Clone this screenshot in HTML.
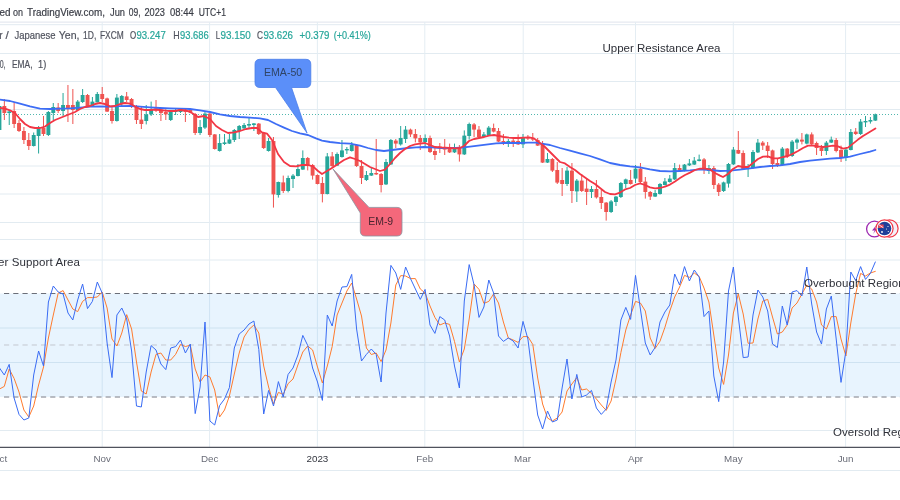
<!DOCTYPE html>
<html><head><meta charset="utf-8"><title>Chart</title>
<style>
html,body{margin:0;padding:0;background:#fff;}
body{width:900px;height:500px;overflow:hidden;position:relative;font-family:"Liberation Sans","DejaVu Sans",sans-serif;}
svg{position:absolute;left:0;top:0;display:block;will-change:transform;opacity:0.999}
text{font-family:"Liberation Sans","DejaVu Sans",sans-serif;}
</style></head><body>
<svg width="900" height="500" viewBox="0 0 900 500">
<rect width="900" height="500" fill="#ffffff"/>
<line x1="0" x2="900" y1="24.7" y2="24.7" stroke="#e2ebf1" stroke-width="1"/>
<line x1="0" x2="900" y1="53.5" y2="53.5" stroke="#e2ebf1" stroke-width="1"/>
<line x1="0" x2="900" y1="81.5" y2="81.5" stroke="#e2ebf1" stroke-width="1"/>
<line x1="0" x2="900" y1="109.5" y2="109.5" stroke="#e2ebf1" stroke-width="1"/>
<line x1="0" x2="900" y1="138" y2="138" stroke="#e2ebf1" stroke-width="1"/>
<line x1="0" x2="900" y1="166" y2="166" stroke="#e2ebf1" stroke-width="1"/>
<line x1="0" x2="900" y1="194" y2="194" stroke="#e2ebf1" stroke-width="1"/>
<line x1="0" x2="900" y1="222.5" y2="222.5" stroke="#e2ebf1" stroke-width="1"/>
<line x1="0" x2="900" y1="239.5" y2="239.5" stroke="#e2ebf1" stroke-width="1"/>
<line x1="0" x2="900" y1="260" y2="260" stroke="#e2ebf1" stroke-width="1"/>
<line x1="0" x2="900" y1="328" y2="328" stroke="#e2ebf1" stroke-width="1"/>
<line x1="0" x2="900" y1="362.5" y2="362.5" stroke="#e2ebf1" stroke-width="1"/>
<line x1="0" x2="900" y1="430.5" y2="430.5" stroke="#e2ebf1" stroke-width="1"/>
<line x1="0" x2="900" y1="470.5" y2="470.5" stroke="#e2ebf1" stroke-width="1"/>
<line x1="0" x2="900" y1="22.2" y2="22.2" stroke="#e6e9f0" stroke-width="1.2"/>
<line x1="102.2" x2="102.2" y1="22" y2="447" stroke="#e4edf3" stroke-width="1"/>
<line x1="209.6" x2="209.6" y1="22" y2="447" stroke="#e4edf3" stroke-width="1"/>
<line x1="317.4" x2="317.4" y1="22" y2="447" stroke="#e4edf3" stroke-width="1"/>
<line x1="424.8" x2="424.8" y1="22" y2="447" stroke="#e4edf3" stroke-width="1"/>
<line x1="523.2" x2="523.2" y1="22" y2="447" stroke="#e4edf3" stroke-width="1"/>
<line x1="635.5" x2="635.5" y1="22" y2="447" stroke="#e4edf3" stroke-width="1"/>
<line x1="733.3" x2="733.3" y1="22" y2="447" stroke="#e4edf3" stroke-width="1"/>
<line x1="845.6" x2="845.6" y1="22" y2="447" stroke="#e4edf3" stroke-width="1"/>
<rect x="0" y="293.5" width="900" height="103.5" fill="rgb(33,150,243)" fill-opacity="0.1"/>
<line x1="4" x2="900" y1="293.5" y2="293.5" stroke="#6b6e78" stroke-width="1" stroke-dasharray="5.2 4.036"/>
<line x1="4" x2="900" y1="345" y2="345" stroke="#c3c7cf" stroke-width="1" stroke-dasharray="5.2 4.036"/>
<line x1="4" x2="900" y1="397" y2="397" stroke="#a4a7ae" stroke-width="1.3" stroke-dasharray="5.2 4.036"/>
<line x1="0" x2="900" y1="114.5" y2="114.5" stroke="#26a69a" stroke-width="1" stroke-dasharray="1 2" opacity="0.8"/>
<line x1="-0.55" x2="-0.55" y1="106.0" y2="130.0" stroke="#26a69a" stroke-width="1"/>
<rect x="-2.50" y="106.0" width="3.9" height="24.00" fill="#26a69a"/>
<line x1="4.35" x2="4.35" y1="99.0" y2="120.0" stroke="#ef5350" stroke-width="1"/>
<rect x="2.40" y="106.0" width="3.9" height="7.00" fill="#ef5350"/>
<line x1="9.24" x2="9.24" y1="110.0" y2="125.0" stroke="#26a69a" stroke-width="1"/>
<rect x="7.29" y="111.5" width="3.9" height="1.50" fill="#26a69a"/>
<line x1="14.13" x2="14.13" y1="102.0" y2="128.0" stroke="#ef5350" stroke-width="1"/>
<rect x="12.18" y="111.0" width="3.9" height="13.00" fill="#ef5350"/>
<line x1="19.02" x2="19.02" y1="120.0" y2="132.0" stroke="#ef5350" stroke-width="1"/>
<rect x="17.07" y="123.0" width="3.9" height="8.00" fill="#ef5350"/>
<line x1="23.92" x2="23.92" y1="127.0" y2="144.0" stroke="#ef5350" stroke-width="1"/>
<rect x="21.97" y="131.0" width="3.9" height="9.00" fill="#ef5350"/>
<line x1="28.81" x2="28.81" y1="133.0" y2="150.0" stroke="#ef5350" stroke-width="1"/>
<rect x="26.86" y="140.0" width="3.9" height="6.00" fill="#ef5350"/>
<line x1="33.70" x2="33.70" y1="132.5" y2="146.5" stroke="#26a69a" stroke-width="1"/>
<rect x="31.75" y="135.0" width="3.9" height="11.00" fill="#26a69a"/>
<line x1="38.60" x2="38.60" y1="126.0" y2="153.5" stroke="#26a69a" stroke-width="1"/>
<rect x="36.65" y="127.0" width="3.9" height="9.00" fill="#26a69a"/>
<line x1="43.49" x2="43.49" y1="116.0" y2="136.0" stroke="#ef5350" stroke-width="1"/>
<rect x="41.54" y="128.0" width="3.9" height="6.00" fill="#ef5350"/>
<line x1="48.38" x2="48.38" y1="111.0" y2="136.0" stroke="#26a69a" stroke-width="1"/>
<rect x="46.43" y="112.0" width="3.9" height="23.00" fill="#26a69a"/>
<line x1="53.28" x2="53.28" y1="103.0" y2="120.0" stroke="#26a69a" stroke-width="1"/>
<rect x="51.33" y="107.0" width="3.9" height="6.00" fill="#26a69a"/>
<line x1="58.17" x2="58.17" y1="103.0" y2="113.0" stroke="#ef5350" stroke-width="1"/>
<rect x="56.22" y="107.5" width="3.9" height="3.50" fill="#ef5350"/>
<line x1="63.06" x2="63.06" y1="93.0" y2="116.0" stroke="#26a69a" stroke-width="1"/>
<rect x="61.11" y="105.0" width="3.9" height="6.00" fill="#26a69a"/>
<line x1="67.95" x2="67.95" y1="85.0" y2="122.0" stroke="#ef5350" stroke-width="1"/>
<rect x="66.00" y="105.0" width="3.9" height="3.00" fill="#ef5350"/>
<line x1="72.85" x2="72.85" y1="89.0" y2="124.0" stroke="#ef5350" stroke-width="1"/>
<rect x="70.90" y="105.0" width="3.9" height="5.00" fill="#ef5350"/>
<line x1="77.74" x2="77.74" y1="100.0" y2="110.0" stroke="#26a69a" stroke-width="1"/>
<rect x="75.79" y="101.6" width="3.9" height="8.40" fill="#26a69a"/>
<line x1="82.63" x2="82.63" y1="89.0" y2="103.0" stroke="#26a69a" stroke-width="1"/>
<rect x="80.68" y="95.0" width="3.9" height="7.00" fill="#26a69a"/>
<line x1="87.53" x2="87.53" y1="94.0" y2="106.4" stroke="#ef5350" stroke-width="1"/>
<rect x="85.58" y="95.0" width="3.9" height="11.00" fill="#ef5350"/>
<line x1="92.42" x2="92.42" y1="97.0" y2="106.0" stroke="#26a69a" stroke-width="1"/>
<rect x="90.47" y="101.6" width="3.9" height="4.40" fill="#26a69a"/>
<line x1="97.31" x2="97.31" y1="92.0" y2="102.4" stroke="#26a69a" stroke-width="1"/>
<rect x="95.36" y="94.0" width="3.9" height="8.40" fill="#26a69a"/>
<line x1="102.21" x2="102.21" y1="87.0" y2="102.0" stroke="#ef5350" stroke-width="1"/>
<rect x="100.26" y="94.0" width="3.9" height="5.00" fill="#ef5350"/>
<line x1="107.10" x2="107.10" y1="97.6" y2="112.0" stroke="#ef5350" stroke-width="1"/>
<rect x="105.15" y="98.4" width="3.9" height="13.20" fill="#ef5350"/>
<line x1="111.99" x2="111.99" y1="106.0" y2="123.6" stroke="#ef5350" stroke-width="1"/>
<rect x="110.04" y="111.0" width="3.9" height="10.00" fill="#ef5350"/>
<line x1="116.88" x2="116.88" y1="94.0" y2="121.6" stroke="#26a69a" stroke-width="1"/>
<rect x="114.93" y="97.6" width="3.9" height="23.40" fill="#26a69a"/>
<line x1="121.78" x2="121.78" y1="95.0" y2="106.0" stroke="#26a69a" stroke-width="1"/>
<rect x="119.83" y="96.0" width="3.9" height="7.00" fill="#26a69a"/>
<line x1="126.67" x2="126.67" y1="92.0" y2="102.0" stroke="#ef5350" stroke-width="1"/>
<rect x="124.72" y="96.4" width="3.9" height="3.60" fill="#ef5350"/>
<line x1="131.56" x2="131.56" y1="98.0" y2="108.0" stroke="#ef5350" stroke-width="1"/>
<rect x="129.61" y="99.0" width="3.9" height="8.00" fill="#ef5350"/>
<line x1="136.46" x2="136.46" y1="105.0" y2="124.0" stroke="#ef5350" stroke-width="1"/>
<rect x="134.51" y="106.0" width="3.9" height="14.00" fill="#ef5350"/>
<line x1="141.35" x2="141.35" y1="106.0" y2="129.0" stroke="#ef5350" stroke-width="1"/>
<rect x="139.40" y="119.6" width="3.9" height="4.40" fill="#ef5350"/>
<line x1="146.24" x2="146.24" y1="105.0" y2="124.4" stroke="#26a69a" stroke-width="1"/>
<rect x="144.29" y="114.4" width="3.9" height="6.60" fill="#26a69a"/>
<line x1="151.14" x2="151.14" y1="101.6" y2="116.0" stroke="#26a69a" stroke-width="1"/>
<rect x="149.19" y="109.0" width="3.9" height="5.40" fill="#26a69a"/>
<line x1="156.03" x2="156.03" y1="100.0" y2="112.0" stroke="#ef5350" stroke-width="1"/>
<rect x="154.08" y="108.4" width="3.9" height="2.00" fill="#ef5350"/>
<line x1="160.92" x2="160.92" y1="108.0" y2="121.0" stroke="#ef5350" stroke-width="1"/>
<rect x="158.97" y="109.6" width="3.9" height="3.40" fill="#ef5350"/>
<line x1="165.81" x2="165.81" y1="108.0" y2="120.0" stroke="#ef5350" stroke-width="1"/>
<rect x="163.87" y="112.0" width="3.9" height="2.40" fill="#ef5350"/>
<line x1="170.71" x2="170.71" y1="110.0" y2="121.0" stroke="#26a69a" stroke-width="1"/>
<rect x="168.76" y="111.6" width="3.9" height="8.40" fill="#26a69a"/>
<line x1="175.60" x2="175.60" y1="109.0" y2="115.0" stroke="#26a69a" stroke-width="1"/>
<rect x="173.65" y="110.0" width="3.9" height="2.00" fill="#26a69a"/>
<line x1="180.49" x2="180.49" y1="108.0" y2="113.0" stroke="#26a69a" stroke-width="1"/>
<rect x="178.54" y="109.0" width="3.9" height="3.00" fill="#26a69a"/>
<line x1="185.39" x2="185.39" y1="109.0" y2="122.0" stroke="#ef5350" stroke-width="1"/>
<rect x="183.44" y="110.0" width="3.9" height="2.00" fill="#ef5350"/>
<line x1="190.28" x2="190.28" y1="109.0" y2="113.0" stroke="#ef5350" stroke-width="1"/>
<rect x="188.33" y="110.0" width="3.9" height="2.00" fill="#ef5350"/>
<line x1="195.17" x2="195.17" y1="113.0" y2="135.0" stroke="#ef5350" stroke-width="1"/>
<rect x="193.22" y="114.0" width="3.9" height="19.00" fill="#ef5350"/>
<line x1="200.07" x2="200.07" y1="120.0" y2="135.0" stroke="#26a69a" stroke-width="1"/>
<rect x="198.12" y="127.0" width="3.9" height="6.00" fill="#26a69a"/>
<line x1="204.96" x2="204.96" y1="112.0" y2="129.0" stroke="#26a69a" stroke-width="1"/>
<rect x="203.01" y="113.6" width="3.9" height="14.00" fill="#26a69a"/>
<line x1="209.85" x2="209.85" y1="113.0" y2="137.0" stroke="#ef5350" stroke-width="1"/>
<rect x="207.90" y="113.6" width="3.9" height="21.40" fill="#ef5350"/>
<line x1="214.75" x2="214.75" y1="134.0" y2="149.6" stroke="#ef5350" stroke-width="1"/>
<rect x="212.80" y="134.4" width="3.9" height="14.60" fill="#ef5350"/>
<line x1="219.64" x2="219.64" y1="134.0" y2="151.6" stroke="#26a69a" stroke-width="1"/>
<rect x="217.69" y="143.0" width="3.9" height="8.00" fill="#26a69a"/>
<line x1="224.53" x2="224.53" y1="134.0" y2="145.0" stroke="#26a69a" stroke-width="1"/>
<rect x="222.58" y="142.4" width="3.9" height="1.60" fill="#26a69a"/>
<line x1="229.42" x2="229.42" y1="134.0" y2="144.0" stroke="#26a69a" stroke-width="1"/>
<rect x="227.47" y="139.4" width="3.9" height="4.20" fill="#26a69a"/>
<line x1="234.32" x2="234.32" y1="129.0" y2="142.0" stroke="#26a69a" stroke-width="1"/>
<rect x="232.37" y="130.0" width="3.9" height="10.00" fill="#26a69a"/>
<line x1="239.21" x2="239.21" y1="125.0" y2="139.0" stroke="#26a69a" stroke-width="1"/>
<rect x="237.26" y="126.0" width="3.9" height="5.00" fill="#26a69a"/>
<line x1="244.10" x2="244.10" y1="123.0" y2="129.0" stroke="#26a69a" stroke-width="1"/>
<rect x="242.15" y="125.0" width="3.9" height="3.40" fill="#26a69a"/>
<line x1="249.00" x2="249.00" y1="118.0" y2="128.0" stroke="#26a69a" stroke-width="1"/>
<rect x="247.05" y="124.0" width="3.9" height="1.60" fill="#26a69a"/>
<line x1="253.89" x2="253.89" y1="123.0" y2="131.0" stroke="#26a69a" stroke-width="1"/>
<rect x="251.94" y="123.4" width="3.9" height="1.60" fill="#26a69a"/>
<line x1="258.78" x2="258.78" y1="123.0" y2="135.0" stroke="#ef5350" stroke-width="1"/>
<rect x="256.83" y="123.6" width="3.9" height="10.40" fill="#ef5350"/>
<line x1="263.68" x2="263.68" y1="132.0" y2="149.0" stroke="#ef5350" stroke-width="1"/>
<rect x="261.73" y="133.0" width="3.9" height="15.00" fill="#ef5350"/>
<line x1="268.57" x2="268.57" y1="138.0" y2="151.6" stroke="#26a69a" stroke-width="1"/>
<rect x="266.62" y="141.0" width="3.9" height="10.00" fill="#26a69a"/>
<line x1="273.46" x2="273.46" y1="137.0" y2="207.6" stroke="#ef5350" stroke-width="1"/>
<rect x="271.51" y="141.0" width="3.9" height="53.40" fill="#ef5350"/>
<line x1="278.35" x2="278.35" y1="181.6" y2="197.6" stroke="#26a69a" stroke-width="1"/>
<rect x="276.40" y="182.0" width="3.9" height="13.00" fill="#26a69a"/>
<line x1="283.25" x2="283.25" y1="175.6" y2="193.0" stroke="#ef5350" stroke-width="1"/>
<rect x="281.30" y="182.4" width="3.9" height="8.60" fill="#ef5350"/>
<line x1="288.14" x2="288.14" y1="175.6" y2="192.4" stroke="#26a69a" stroke-width="1"/>
<rect x="286.19" y="178.0" width="3.9" height="13.00" fill="#26a69a"/>
<line x1="293.03" x2="293.03" y1="174.0" y2="188.0" stroke="#26a69a" stroke-width="1"/>
<rect x="291.08" y="175.6" width="3.9" height="3.40" fill="#26a69a"/>
<line x1="297.93" x2="297.93" y1="164.0" y2="176.4" stroke="#26a69a" stroke-width="1"/>
<rect x="295.98" y="169.0" width="3.9" height="7.00" fill="#26a69a"/>
<line x1="302.82" x2="302.82" y1="150.4" y2="170.0" stroke="#26a69a" stroke-width="1"/>
<rect x="300.87" y="158.0" width="3.9" height="11.60" fill="#26a69a"/>
<line x1="307.71" x2="307.71" y1="157.0" y2="170.4" stroke="#ef5350" stroke-width="1"/>
<rect x="305.76" y="158.0" width="3.9" height="8.00" fill="#ef5350"/>
<line x1="312.60" x2="312.60" y1="164.0" y2="179.6" stroke="#ef5350" stroke-width="1"/>
<rect x="310.65" y="165.0" width="3.9" height="10.60" fill="#ef5350"/>
<line x1="317.50" x2="317.50" y1="174.4" y2="184.4" stroke="#ef5350" stroke-width="1"/>
<rect x="315.55" y="175.0" width="3.9" height="9.00" fill="#ef5350"/>
<line x1="322.39" x2="322.39" y1="177.0" y2="202.4" stroke="#ef5350" stroke-width="1"/>
<rect x="320.44" y="183.0" width="3.9" height="11.00" fill="#ef5350"/>
<line x1="327.28" x2="327.28" y1="153.0" y2="194.4" stroke="#26a69a" stroke-width="1"/>
<rect x="325.33" y="156.4" width="3.9" height="37.60" fill="#26a69a"/>
<line x1="332.18" x2="332.18" y1="152.0" y2="168.0" stroke="#ef5350" stroke-width="1"/>
<rect x="330.23" y="156.4" width="3.9" height="9.60" fill="#ef5350"/>
<line x1="337.07" x2="337.07" y1="152.4" y2="166.0" stroke="#26a69a" stroke-width="1"/>
<rect x="335.12" y="154.0" width="3.9" height="11.60" fill="#26a69a"/>
<line x1="341.96" x2="341.96" y1="140.0" y2="157.6" stroke="#26a69a" stroke-width="1"/>
<rect x="340.01" y="150.4" width="3.9" height="6.60" fill="#26a69a"/>
<line x1="346.86" x2="346.86" y1="147.0" y2="154.0" stroke="#26a69a" stroke-width="1"/>
<rect x="344.91" y="149.0" width="3.9" height="1.40" fill="#26a69a"/>
<line x1="351.75" x2="351.75" y1="142.0" y2="151.6" stroke="#26a69a" stroke-width="1"/>
<rect x="349.80" y="145.0" width="3.9" height="6.00" fill="#26a69a"/>
<line x1="356.64" x2="356.64" y1="144.0" y2="167.0" stroke="#ef5350" stroke-width="1"/>
<rect x="354.69" y="145.0" width="3.9" height="21.00" fill="#ef5350"/>
<line x1="361.53" x2="361.53" y1="160.0" y2="184.0" stroke="#ef5350" stroke-width="1"/>
<rect x="359.58" y="166.0" width="3.9" height="12.00" fill="#ef5350"/>
<line x1="366.43" x2="366.43" y1="171.0" y2="181.0" stroke="#26a69a" stroke-width="1"/>
<rect x="364.48" y="175.0" width="3.9" height="5.00" fill="#26a69a"/>
<line x1="371.32" x2="371.32" y1="168.0" y2="176.0" stroke="#26a69a" stroke-width="1"/>
<rect x="369.37" y="173.0" width="3.9" height="2.60" fill="#26a69a"/>
<line x1="376.21" x2="376.21" y1="139.0" y2="175.0" stroke="#ef5350" stroke-width="1"/>
<rect x="374.26" y="173.0" width="3.9" height="1.40" fill="#ef5350"/>
<line x1="381.11" x2="381.11" y1="173.0" y2="192.4" stroke="#ef5350" stroke-width="1"/>
<rect x="379.16" y="174.0" width="3.9" height="11.00" fill="#ef5350"/>
<line x1="386.00" x2="386.00" y1="159.0" y2="185.0" stroke="#26a69a" stroke-width="1"/>
<rect x="384.05" y="162.0" width="3.9" height="22.40" fill="#26a69a"/>
<line x1="390.89" x2="390.89" y1="139.0" y2="165.0" stroke="#26a69a" stroke-width="1"/>
<rect x="388.94" y="140.0" width="3.9" height="24.40" fill="#26a69a"/>
<line x1="395.79" x2="395.79" y1="139.0" y2="148.0" stroke="#ef5350" stroke-width="1"/>
<rect x="393.84" y="140.6" width="3.9" height="3.00" fill="#ef5350"/>
<line x1="400.68" x2="400.68" y1="126.0" y2="145.6" stroke="#26a69a" stroke-width="1"/>
<rect x="398.73" y="138.0" width="3.9" height="6.40" fill="#26a69a"/>
<line x1="405.57" x2="405.57" y1="126.0" y2="143.0" stroke="#26a69a" stroke-width="1"/>
<rect x="403.62" y="129.6" width="3.9" height="9.40" fill="#26a69a"/>
<line x1="410.46" x2="410.46" y1="128.6" y2="137.0" stroke="#ef5350" stroke-width="1"/>
<rect x="408.51" y="129.6" width="3.9" height="4.80" fill="#ef5350"/>
<line x1="415.36" x2="415.36" y1="129.0" y2="142.4" stroke="#ef5350" stroke-width="1"/>
<rect x="413.41" y="134.0" width="3.9" height="4.40" fill="#ef5350"/>
<line x1="420.25" x2="420.25" y1="135.0" y2="150.0" stroke="#ef5350" stroke-width="1"/>
<rect x="418.30" y="138.0" width="3.9" height="4.40" fill="#ef5350"/>
<line x1="425.14" x2="425.14" y1="134.4" y2="148.0" stroke="#26a69a" stroke-width="1"/>
<rect x="423.19" y="138.0" width="3.9" height="4.00" fill="#26a69a"/>
<line x1="430.04" x2="430.04" y1="135.6" y2="153.0" stroke="#ef5350" stroke-width="1"/>
<rect x="428.09" y="138.0" width="3.9" height="14.00" fill="#ef5350"/>
<line x1="434.93" x2="434.93" y1="147.0" y2="160.0" stroke="#ef5350" stroke-width="1"/>
<rect x="432.98" y="151.0" width="3.9" height="4.00" fill="#ef5350"/>
<line x1="439.82" x2="439.82" y1="143.0" y2="153.0" stroke="#ef5350" stroke-width="1"/>
<rect x="437.87" y="146.4" width="3.9" height="1.60" fill="#ef5350"/>
<line x1="444.72" x2="444.72" y1="139.0" y2="155.0" stroke="#ef5350" stroke-width="1"/>
<rect x="442.77" y="147.0" width="3.9" height="2.60" fill="#ef5350"/>
<line x1="449.61" x2="449.61" y1="143.6" y2="153.0" stroke="#ef5350" stroke-width="1"/>
<rect x="447.66" y="148.0" width="3.9" height="4.40" fill="#ef5350"/>
<line x1="454.50" x2="454.50" y1="143.6" y2="153.0" stroke="#26a69a" stroke-width="1"/>
<rect x="452.55" y="149.0" width="3.9" height="3.40" fill="#26a69a"/>
<line x1="459.39" x2="459.39" y1="145.0" y2="161.6" stroke="#ef5350" stroke-width="1"/>
<rect x="457.44" y="148.0" width="3.9" height="6.40" fill="#ef5350"/>
<line x1="464.29" x2="464.29" y1="130.4" y2="155.0" stroke="#26a69a" stroke-width="1"/>
<rect x="462.34" y="135.6" width="3.9" height="18.80" fill="#26a69a"/>
<line x1="469.18" x2="469.18" y1="122.6" y2="139.6" stroke="#26a69a" stroke-width="1"/>
<rect x="467.23" y="124.0" width="3.9" height="12.00" fill="#26a69a"/>
<line x1="474.07" x2="474.07" y1="123.0" y2="137.0" stroke="#ef5350" stroke-width="1"/>
<rect x="472.12" y="124.4" width="3.9" height="5.20" fill="#ef5350"/>
<line x1="478.97" x2="478.97" y1="126.0" y2="138.4" stroke="#ef5350" stroke-width="1"/>
<rect x="477.02" y="129.6" width="3.9" height="7.40" fill="#ef5350"/>
<line x1="483.86" x2="483.86" y1="132.0" y2="137.6" stroke="#26a69a" stroke-width="1"/>
<rect x="481.91" y="134.4" width="3.9" height="2.60" fill="#26a69a"/>
<line x1="488.75" x2="488.75" y1="126.0" y2="136.0" stroke="#26a69a" stroke-width="1"/>
<rect x="486.80" y="127.6" width="3.9" height="8.00" fill="#26a69a"/>
<line x1="493.65" x2="493.65" y1="123.6" y2="132.4" stroke="#ef5350" stroke-width="1"/>
<rect x="491.70" y="128.0" width="3.9" height="3.60" fill="#ef5350"/>
<line x1="498.54" x2="498.54" y1="128.0" y2="142.0" stroke="#ef5350" stroke-width="1"/>
<rect x="496.59" y="131.0" width="3.9" height="10.60" fill="#ef5350"/>
<line x1="503.43" x2="503.43" y1="134.0" y2="145.0" stroke="#ef5350" stroke-width="1"/>
<rect x="501.48" y="141.0" width="3.9" height="1.40" fill="#ef5350"/>
<line x1="508.32" x2="508.32" y1="139.0" y2="147.0" stroke="#26a69a" stroke-width="1"/>
<rect x="506.38" y="141.0" width="3.9" height="2.00" fill="#26a69a"/>
<line x1="513.22" x2="513.22" y1="137.0" y2="147.0" stroke="#ef5350" stroke-width="1"/>
<rect x="511.27" y="140.6" width="3.9" height="1.80" fill="#ef5350"/>
<line x1="518.11" x2="518.11" y1="134.4" y2="145.0" stroke="#ef5350" stroke-width="1"/>
<rect x="516.16" y="141.0" width="3.9" height="3.40" fill="#ef5350"/>
<line x1="523.00" x2="523.00" y1="134.0" y2="148.0" stroke="#26a69a" stroke-width="1"/>
<rect x="521.05" y="137.0" width="3.9" height="7.40" fill="#26a69a"/>
<line x1="527.90" x2="527.90" y1="135.0" y2="140.0" stroke="#ef5350" stroke-width="1"/>
<rect x="525.95" y="137.0" width="3.9" height="1.40" fill="#ef5350"/>
<line x1="532.79" x2="532.79" y1="133.0" y2="141.0" stroke="#ef5350" stroke-width="1"/>
<rect x="530.84" y="138.4" width="3.9" height="1.20" fill="#ef5350"/>
<line x1="537.68" x2="537.68" y1="138.0" y2="146.0" stroke="#ef5350" stroke-width="1"/>
<rect x="535.73" y="140.0" width="3.9" height="5.60" fill="#ef5350"/>
<line x1="542.58" x2="542.58" y1="141.0" y2="163.0" stroke="#ef5350" stroke-width="1"/>
<rect x="540.63" y="144.0" width="3.9" height="18.60" fill="#ef5350"/>
<line x1="547.47" x2="547.47" y1="153.0" y2="163.0" stroke="#26a69a" stroke-width="1"/>
<rect x="545.52" y="159.0" width="3.9" height="3.60" fill="#26a69a"/>
<line x1="552.36" x2="552.36" y1="158.0" y2="172.0" stroke="#ef5350" stroke-width="1"/>
<rect x="550.41" y="159.0" width="3.9" height="11.60" fill="#ef5350"/>
<line x1="557.25" x2="557.25" y1="162.0" y2="184.0" stroke="#ef5350" stroke-width="1"/>
<rect x="555.30" y="170.0" width="3.9" height="12.60" fill="#ef5350"/>
<line x1="562.15" x2="562.15" y1="168.0" y2="196.0" stroke="#ef5350" stroke-width="1"/>
<rect x="560.20" y="180.0" width="3.9" height="4.00" fill="#ef5350"/>
<line x1="567.04" x2="567.04" y1="167.0" y2="186.0" stroke="#26a69a" stroke-width="1"/>
<rect x="565.09" y="170.6" width="3.9" height="13.40" fill="#26a69a"/>
<line x1="571.93" x2="571.93" y1="163.0" y2="203.0" stroke="#ef5350" stroke-width="1"/>
<rect x="569.98" y="170.6" width="3.9" height="20.40" fill="#ef5350"/>
<line x1="576.83" x2="576.83" y1="179.0" y2="202.0" stroke="#26a69a" stroke-width="1"/>
<rect x="574.88" y="180.6" width="3.9" height="10.80" fill="#26a69a"/>
<line x1="581.72" x2="581.72" y1="174.0" y2="192.0" stroke="#ef5350" stroke-width="1"/>
<rect x="579.77" y="180.6" width="3.9" height="10.40" fill="#ef5350"/>
<line x1="586.61" x2="586.61" y1="179.0" y2="205.0" stroke="#ef5350" stroke-width="1"/>
<rect x="584.66" y="188.6" width="3.9" height="3.40" fill="#ef5350"/>
<line x1="591.51" x2="591.51" y1="186.0" y2="198.0" stroke="#26a69a" stroke-width="1"/>
<rect x="589.56" y="189.0" width="3.9" height="3.00" fill="#26a69a"/>
<line x1="596.40" x2="596.40" y1="180.0" y2="198.6" stroke="#ef5350" stroke-width="1"/>
<rect x="594.45" y="189.0" width="3.9" height="8.40" fill="#ef5350"/>
<line x1="601.29" x2="601.29" y1="190.0" y2="209.0" stroke="#ef5350" stroke-width="1"/>
<rect x="599.34" y="197.0" width="3.9" height="6.00" fill="#ef5350"/>
<line x1="606.18" x2="606.18" y1="202.0" y2="220.6" stroke="#ef5350" stroke-width="1"/>
<rect x="604.23" y="202.6" width="3.9" height="9.40" fill="#ef5350"/>
<line x1="611.08" x2="611.08" y1="200.0" y2="213.0" stroke="#26a69a" stroke-width="1"/>
<rect x="609.13" y="201.4" width="3.9" height="10.60" fill="#26a69a"/>
<line x1="615.97" x2="615.97" y1="196.0" y2="206.0" stroke="#26a69a" stroke-width="1"/>
<rect x="614.02" y="196.6" width="3.9" height="5.40" fill="#26a69a"/>
<line x1="620.86" x2="620.86" y1="182.0" y2="198.0" stroke="#26a69a" stroke-width="1"/>
<rect x="618.91" y="183.0" width="3.9" height="14.00" fill="#26a69a"/>
<line x1="625.76" x2="625.76" y1="178.6" y2="188.0" stroke="#26a69a" stroke-width="1"/>
<rect x="623.81" y="179.4" width="3.9" height="4.60" fill="#26a69a"/>
<line x1="630.65" x2="630.65" y1="170.0" y2="184.6" stroke="#ef5350" stroke-width="1"/>
<rect x="628.70" y="180.0" width="3.9" height="4.00" fill="#ef5350"/>
<line x1="635.54" x2="635.54" y1="165.0" y2="183.0" stroke="#26a69a" stroke-width="1"/>
<rect x="633.59" y="168.6" width="3.9" height="10.00" fill="#26a69a"/>
<line x1="640.44" x2="640.44" y1="163.0" y2="183.0" stroke="#ef5350" stroke-width="1"/>
<rect x="638.49" y="168.6" width="3.9" height="13.40" fill="#ef5350"/>
<line x1="645.33" x2="645.33" y1="177.0" y2="198.6" stroke="#ef5350" stroke-width="1"/>
<rect x="643.38" y="181.6" width="3.9" height="10.40" fill="#ef5350"/>
<line x1="650.22" x2="650.22" y1="191.0" y2="200.0" stroke="#ef5350" stroke-width="1"/>
<rect x="648.27" y="192.0" width="3.9" height="4.60" fill="#ef5350"/>
<line x1="655.11" x2="655.11" y1="190.0" y2="197.0" stroke="#26a69a" stroke-width="1"/>
<rect x="653.16" y="193.0" width="3.9" height="3.60" fill="#26a69a"/>
<line x1="660.01" x2="660.01" y1="183.0" y2="194.6" stroke="#26a69a" stroke-width="1"/>
<rect x="658.06" y="184.0" width="3.9" height="10.00" fill="#26a69a"/>
<line x1="664.90" x2="664.90" y1="178.0" y2="185.4" stroke="#26a69a" stroke-width="1"/>
<rect x="662.95" y="181.4" width="3.9" height="3.60" fill="#26a69a"/>
<line x1="669.79" x2="669.79" y1="175.0" y2="182.6" stroke="#26a69a" stroke-width="1"/>
<rect x="667.84" y="178.6" width="3.9" height="3.40" fill="#26a69a"/>
<line x1="674.69" x2="674.69" y1="163.0" y2="180.0" stroke="#26a69a" stroke-width="1"/>
<rect x="672.74" y="168.0" width="3.9" height="11.40" fill="#26a69a"/>
<line x1="679.58" x2="679.58" y1="164.6" y2="172.0" stroke="#ef5350" stroke-width="1"/>
<rect x="677.63" y="168.0" width="3.9" height="2.60" fill="#ef5350"/>
<line x1="684.47" x2="684.47" y1="164.0" y2="171.4" stroke="#26a69a" stroke-width="1"/>
<rect x="682.52" y="164.6" width="3.9" height="6.40" fill="#26a69a"/>
<line x1="689.37" x2="689.37" y1="159.0" y2="166.0" stroke="#26a69a" stroke-width="1"/>
<rect x="687.42" y="163.4" width="3.9" height="2.00" fill="#26a69a"/>
<line x1="694.26" x2="694.26" y1="157.0" y2="165.0" stroke="#26a69a" stroke-width="1"/>
<rect x="692.31" y="160.6" width="3.9" height="4.00" fill="#26a69a"/>
<line x1="699.15" x2="699.15" y1="154.6" y2="161.4" stroke="#26a69a" stroke-width="1"/>
<rect x="697.20" y="159.4" width="3.9" height="1.60" fill="#26a69a"/>
<line x1="704.04" x2="704.04" y1="158.0" y2="174.0" stroke="#ef5350" stroke-width="1"/>
<rect x="702.09" y="159.4" width="3.9" height="10.00" fill="#ef5350"/>
<line x1="708.94" x2="708.94" y1="165.0" y2="174.0" stroke="#26a69a" stroke-width="1"/>
<rect x="706.99" y="168.0" width="3.9" height="3.00" fill="#26a69a"/>
<line x1="713.83" x2="713.83" y1="166.0" y2="189.0" stroke="#ef5350" stroke-width="1"/>
<rect x="711.88" y="168.0" width="3.9" height="17.00" fill="#ef5350"/>
<line x1="718.72" x2="718.72" y1="183.0" y2="196.0" stroke="#ef5350" stroke-width="1"/>
<rect x="716.77" y="184.6" width="3.9" height="7.40" fill="#ef5350"/>
<line x1="723.62" x2="723.62" y1="181.6" y2="192.0" stroke="#26a69a" stroke-width="1"/>
<rect x="721.67" y="182.4" width="3.9" height="8.60" fill="#26a69a"/>
<line x1="728.51" x2="728.51" y1="163.0" y2="187.6" stroke="#26a69a" stroke-width="1"/>
<rect x="726.56" y="164.0" width="3.9" height="19.60" fill="#26a69a"/>
<line x1="733.40" x2="733.40" y1="147.0" y2="165.0" stroke="#26a69a" stroke-width="1"/>
<rect x="731.45" y="149.6" width="3.9" height="14.80" fill="#26a69a"/>
<line x1="738.30" x2="738.30" y1="131.0" y2="154.0" stroke="#ef5350" stroke-width="1"/>
<rect x="736.35" y="150.0" width="3.9" height="3.60" fill="#ef5350"/>
<line x1="743.19" x2="743.19" y1="150.4" y2="169.6" stroke="#ef5350" stroke-width="1"/>
<rect x="741.24" y="153.0" width="3.9" height="16.00" fill="#ef5350"/>
<line x1="748.08" x2="748.08" y1="164.0" y2="177.0" stroke="#26a69a" stroke-width="1"/>
<rect x="746.13" y="167.6" width="3.9" height="1.40" fill="#26a69a"/>
<line x1="752.97" x2="752.97" y1="150.0" y2="169.0" stroke="#26a69a" stroke-width="1"/>
<rect x="751.02" y="152.0" width="3.9" height="16.00" fill="#26a69a"/>
<line x1="757.87" x2="757.87" y1="139.0" y2="153.0" stroke="#26a69a" stroke-width="1"/>
<rect x="755.92" y="142.6" width="3.9" height="9.80" fill="#26a69a"/>
<line x1="762.76" x2="762.76" y1="141.0" y2="150.0" stroke="#ef5350" stroke-width="1"/>
<rect x="760.81" y="142.6" width="3.9" height="3.00" fill="#ef5350"/>
<line x1="767.65" x2="767.65" y1="142.0" y2="158.0" stroke="#ef5350" stroke-width="1"/>
<rect x="765.70" y="145.6" width="3.9" height="5.40" fill="#ef5350"/>
<line x1="772.55" x2="772.55" y1="149.6" y2="169.0" stroke="#ef5350" stroke-width="1"/>
<rect x="770.60" y="150.4" width="3.9" height="13.60" fill="#ef5350"/>
<line x1="777.44" x2="777.44" y1="158.0" y2="167.0" stroke="#ef5350" stroke-width="1"/>
<rect x="775.49" y="163.0" width="3.9" height="2.60" fill="#ef5350"/>
<line x1="782.33" x2="782.33" y1="147.0" y2="165.6" stroke="#26a69a" stroke-width="1"/>
<rect x="780.38" y="148.6" width="3.9" height="16.40" fill="#26a69a"/>
<line x1="787.23" x2="787.23" y1="148.0" y2="158.0" stroke="#ef5350" stroke-width="1"/>
<rect x="785.28" y="148.6" width="3.9" height="7.80" fill="#ef5350"/>
<line x1="792.12" x2="792.12" y1="140.0" y2="157.0" stroke="#26a69a" stroke-width="1"/>
<rect x="790.17" y="141.6" width="3.9" height="14.40" fill="#26a69a"/>
<line x1="797.01" x2="797.01" y1="138.4" y2="149.0" stroke="#26a69a" stroke-width="1"/>
<rect x="795.06" y="139.6" width="3.9" height="3.00" fill="#26a69a"/>
<line x1="801.90" x2="801.90" y1="133.0" y2="144.4" stroke="#ef5350" stroke-width="1"/>
<rect x="799.95" y="139.6" width="3.9" height="2.00" fill="#ef5350"/>
<line x1="806.80" x2="806.80" y1="133.6" y2="144.4" stroke="#26a69a" stroke-width="1"/>
<rect x="804.85" y="134.4" width="3.9" height="9.20" fill="#26a69a"/>
<line x1="811.69" x2="811.69" y1="132.4" y2="145.6" stroke="#ef5350" stroke-width="1"/>
<rect x="809.74" y="134.4" width="3.9" height="10.00" fill="#ef5350"/>
<line x1="816.58" x2="816.58" y1="141.6" y2="155.0" stroke="#ef5350" stroke-width="1"/>
<rect x="814.63" y="143.0" width="3.9" height="5.00" fill="#ef5350"/>
<line x1="821.48" x2="821.48" y1="145.0" y2="156.0" stroke="#ef5350" stroke-width="1"/>
<rect x="819.53" y="147.6" width="3.9" height="3.40" fill="#ef5350"/>
<line x1="826.37" x2="826.37" y1="141.0" y2="155.0" stroke="#26a69a" stroke-width="1"/>
<rect x="824.42" y="142.6" width="3.9" height="8.40" fill="#26a69a"/>
<line x1="831.26" x2="831.26" y1="136.6" y2="143.0" stroke="#26a69a" stroke-width="1"/>
<rect x="829.31" y="139.6" width="3.9" height="3.00" fill="#26a69a"/>
<line x1="836.16" x2="836.16" y1="138.0" y2="152.4" stroke="#ef5350" stroke-width="1"/>
<rect x="834.21" y="140.0" width="3.9" height="11.00" fill="#ef5350"/>
<line x1="841.05" x2="841.05" y1="145.6" y2="162.0" stroke="#ef5350" stroke-width="1"/>
<rect x="839.10" y="150.0" width="3.9" height="8.00" fill="#ef5350"/>
<line x1="845.94" x2="845.94" y1="148.0" y2="161.0" stroke="#26a69a" stroke-width="1"/>
<rect x="843.99" y="149.6" width="3.9" height="8.40" fill="#26a69a"/>
<line x1="850.83" x2="850.83" y1="129.0" y2="150.4" stroke="#26a69a" stroke-width="1"/>
<rect x="848.88" y="132.0" width="3.9" height="18.00" fill="#26a69a"/>
<line x1="855.73" x2="855.73" y1="128.0" y2="135.0" stroke="#ef5350" stroke-width="1"/>
<rect x="853.78" y="131.6" width="3.9" height="2.40" fill="#ef5350"/>
<line x1="860.62" x2="860.62" y1="119.0" y2="135.0" stroke="#26a69a" stroke-width="1"/>
<rect x="858.67" y="121.6" width="3.9" height="12.40" fill="#26a69a"/>
<line x1="865.51" x2="865.51" y1="116.0" y2="127.0" stroke="#26a69a" stroke-width="1"/>
<rect x="863.56" y="121.0" width="3.9" height="1.40" fill="#26a69a"/>
<line x1="870.41" x2="870.41" y1="117.0" y2="123.6" stroke="#26a69a" stroke-width="1"/>
<rect x="868.46" y="120.0" width="3.9" height="1.60" fill="#26a69a"/>
<line x1="875.30" x2="875.30" y1="113.6" y2="121.0" stroke="#26a69a" stroke-width="1"/>
<rect x="873.35" y="114.4" width="3.9" height="6.20" fill="#26a69a"/>
<polyline points="0.0,99.6 10.0,101.0 20.0,103.6 30.0,106.4 40.0,108.6 50.0,109.0 60.0,108.6 70.0,108.4 80.0,107.6 90.0,106.6 100.0,106.4 110.0,106.6 120.0,106.2 130.0,106.0 140.0,106.6 150.0,107.4 160.0,108.0 170.0,108.4 180.0,108.6 190.0,109.0 200.0,110.4 210.0,112.0 220.0,114.4 230.0,116.0 240.0,117.0 250.0,117.6 260.0,118.4 268.0,120.0 276.0,124.0 284.0,127.6 292.0,131.0 300.0,133.4 308.0,135.0 316.0,138.4 322.0,140.6 330.0,142.0 340.0,143.2 350.0,143.6 360.0,145.6 368.0,148.0 376.0,150.0 384.0,151.0 392.0,150.0 400.0,149.0 408.0,148.0 416.0,147.4 424.0,147.0 432.0,147.4 440.0,148.0 448.0,148.0 456.0,148.0 464.0,147.4 472.0,146.4 480.0,145.4 488.0,144.4 496.0,143.4 504.0,143.0 512.0,143.0 520.0,143.0 528.0,142.6 536.0,142.6 540.0,143.4 550.0,145.0 560.0,148.0 570.0,150.6 580.0,153.4 590.0,156.0 600.0,159.4 610.0,163.0 620.0,165.0 630.0,166.4 640.0,167.4 650.0,169.4 660.0,171.0 670.0,171.4 680.0,171.0 690.0,170.4 700.0,169.4 710.0,170.0 720.0,171.0 730.0,170.6 740.0,169.6 750.0,168.4 760.0,167.0 770.0,166.0 780.0,165.4 790.0,164.0 800.0,162.0 810.0,160.6 820.0,159.6 830.0,158.6 840.0,158.0 850.0,156.6 860.0,154.0 870.0,151.6 875.4,150.0" fill="none" stroke="#3d6df5" stroke-width="1.8" stroke-linejoin="round" stroke-linecap="round" />
<polyline points="0.0,108.0 5.0,108.6 10.0,110.4 15.0,113.0 20.0,119.0 25.0,124.0 30.0,127.0 35.0,128.0 40.0,128.0 45.0,126.6 50.0,123.0 55.0,120.0 60.0,118.0 65.0,116.0 70.0,114.0 75.0,112.0 80.0,109.0 85.0,107.0 90.0,106.0 95.0,104.0 100.0,103.0 105.0,104.0 110.0,106.4 115.0,106.0 120.0,104.0 125.0,103.0 130.0,103.6 135.0,106.6 140.0,109.0 145.0,110.0 150.0,110.0 155.0,109.6 160.0,110.0 165.0,110.6 170.0,111.0 175.0,111.0 180.0,110.0 186.0,110.4 192.0,113.0 198.0,117.0 204.0,116.0 210.0,119.0 216.0,126.0 222.0,130.0 228.0,133.0 234.0,132.4 240.0,131.0 246.0,129.0 252.0,128.0 257.0,128.0 262.0,132.4 267.0,133.6 272.0,140.0 278.0,154.0 284.0,162.0 290.0,166.0 296.0,166.4 302.0,165.0 308.0,165.0 313.0,166.4 318.0,171.0 322.0,174.0 327.0,171.0 332.0,168.0 338.0,164.0 344.0,160.0 350.0,157.4 355.0,159.0 360.0,161.0 365.0,164.0 370.0,167.0 375.0,169.0 380.0,171.0 385.0,169.6 390.0,164.0 395.0,158.0 400.0,153.0 405.0,149.0 410.0,146.0 415.0,144.4 420.0,143.6 425.0,143.0 430.0,145.0 435.0,147.0 440.0,147.4 445.0,147.6 450.0,148.0 455.0,148.4 460.0,148.0 464.0,146.0 469.0,141.0 474.0,139.0 479.0,138.0 484.0,137.0 489.0,135.6 494.0,135.0 499.0,136.0 504.0,137.0 509.0,137.6 514.0,138.0 519.0,138.0 524.0,137.6 529.0,137.4 534.0,138.4 540.0,143.0 545.0,147.0 550.0,152.0 555.0,157.0 560.0,162.0 565.0,163.4 570.0,167.0 575.0,170.0 580.0,174.0 585.0,177.4 590.0,181.0 595.0,184.0 600.0,188.0 605.0,192.0 610.0,194.0 615.0,194.4 620.0,192.6 625.0,189.4 630.0,188.0 635.0,185.0 640.0,183.4 645.0,185.0 650.0,187.4 655.0,188.4 660.0,188.0 665.0,186.6 670.0,184.6 675.0,181.4 680.0,178.0 685.0,175.0 690.0,172.6 695.0,170.0 700.0,168.6 705.0,168.6 710.0,169.4 715.0,173.0 720.0,175.6 723.0,177.0 728.0,174.0 733.0,169.0 738.0,166.0 743.0,167.0 748.0,167.0 753.0,163.0 758.0,159.0 763.0,156.6 768.0,156.4 773.0,158.4 778.0,158.4 783.0,157.0 788.0,156.0 793.0,153.6 798.0,151.0 803.0,148.0 808.0,145.6 813.0,145.6 818.0,146.4 823.0,147.0 828.0,146.4 833.0,145.6 838.0,146.4 843.0,148.6 848.0,147.6 853.0,143.6 858.0,139.6 863.0,136.0 868.0,133.0 875.4,128.4" fill="none" stroke="#f23645" stroke-width="1.8" stroke-linejoin="round" stroke-linecap="round" />
<polyline points="-0.5,389.0 4.3,386.4 9.2,369.0 14.1,378.4 19.0,392.0 23.9,410.0 28.8,417.0 33.7,406.0 38.6,385.0 43.5,367.0 48.4,338.0 53.3,315.0 58.2,293.0 63.1,290.6 68.0,300.0 72.8,309.0 77.7,311.6 82.6,301.4 87.5,297.6 92.4,297.6 97.3,297.0 102.2,292.0 107.1,308.0 112.0,339.0 116.9,346.0 121.8,333.0 126.7,314.6 131.6,329.0 136.5,362.0 141.3,391.0 146.2,394.0 151.1,372.0 156.0,354.4 160.9,353.0 165.8,360.0 170.7,360.0 175.6,354.4 180.5,344.5 185.4,346.5 190.3,345.2 195.2,369.0 200.1,382.0 205.0,375.0 209.9,377.0 214.7,390.0 219.6,417.0 224.5,410.0 229.4,396.0 234.3,374.0 239.2,353.0 244.1,337.0 249.0,329.4 253.9,325.0 258.8,333.0 263.7,366.0 268.6,387.0 273.5,404.0 278.4,392.4 283.2,394.4 288.1,383.6 293.0,379.0 297.9,365.0 302.8,352.0 307.7,346.0 312.6,350.0 317.5,367.0 322.4,383.0 327.3,366.0 332.2,346.5 337.1,315.0 342.0,303.0 346.9,291.0 351.7,283.0 356.6,299.0 361.5,316.0 366.4,348.0 371.3,354.5 376.2,353.0 381.1,361.6 386.0,350.0 390.9,323.0 395.8,285.0 400.7,275.6 405.6,276.0 410.5,278.6 415.4,278.6 420.3,289.0 425.1,293.0 430.0,306.0 434.9,317.4 439.8,325.0 444.7,323.0 449.6,324.4 454.5,341.5 459.4,362.0 464.3,349.0 469.2,319.0 474.1,284.0 479.0,289.4 483.9,303.4 488.8,301.4 493.6,294.0 498.5,303.0 503.4,322.0 508.3,338.0 513.2,340.0 518.1,342.4 523.0,336.6 527.9,336.6 532.8,344.5 537.7,378.0 542.6,404.0 547.5,418.0 552.4,421.0 557.3,418.0 562.1,412.0 567.0,391.0 571.9,384.0 576.8,377.6 581.7,390.0 586.6,389.0 591.5,393.6 596.4,399.0 601.3,405.0 606.2,410.4 611.1,401.0 616.0,379.0 620.9,352.5 625.8,330.0 630.6,315.0 635.5,301.4 640.4,303.0 645.3,311.0 650.2,338.0 655.1,348.5 660.0,341.2 664.9,327.4 669.8,311.0 674.7,297.0 679.6,287.0 684.5,275.4 689.4,277.4 694.3,273.0 699.2,276.6 704.0,288.0 708.9,302.0 713.8,335.0 718.7,368.0 723.6,384.4 728.5,355.0 733.4,313.0 738.3,294.0 743.2,314.0 748.1,343.3 753.0,343.0 757.9,319.0 762.8,301.0 767.7,299.4 772.5,317.0 777.4,334.0 782.3,332.0 787.2,325.0 792.1,308.0 797.0,303.0 801.9,294.0 806.8,285.0 811.7,289.0 816.6,302.0 821.5,325.0 826.4,329.0 831.3,316.6 836.2,316.6 841.0,339.0 845.9,356.0 850.8,323.0 855.7,294.0 860.6,273.4 865.5,276.0 870.4,273.0 875.3,271.4" fill="none" stroke="#ff7b2e" stroke-width="1.0" stroke-linejoin="round" stroke-linecap="round" />
<polyline points="-0.5,368.0 4.3,375.0 9.2,364.4 14.1,398.0 19.0,414.4 23.9,420.0 28.8,418.0 33.7,375.0 38.6,351.0 43.5,366.0 48.4,302.0 53.3,286.0 58.2,292.0 63.1,294.0 68.0,313.0 72.8,320.0 77.7,300.0 82.6,284.0 87.5,308.6 92.4,301.4 97.3,282.0 102.2,293.0 107.1,343.0 112.0,377.6 116.9,315.0 121.8,308.0 126.7,319.0 131.6,351.0 136.5,406.0 141.3,407.0 146.2,372.0 151.1,345.6 156.0,350.0 160.9,364.0 165.8,369.6 170.7,348.0 175.6,346.6 180.5,340.0 185.4,353.0 190.3,344.0 195.2,413.6 200.1,387.0 205.0,322.0 209.9,421.0 214.7,425.0 219.6,405.6 224.5,399.0 229.4,387.6 234.3,348.0 239.2,334.0 244.1,330.0 249.0,324.0 253.9,321.0 258.8,349.5 263.7,414.0 268.6,390.4 273.5,406.0 278.4,381.6 283.2,397.0 288.1,374.4 293.0,368.0 297.9,355.0 302.8,335.4 307.7,345.4 312.6,368.0 317.5,382.0 322.4,400.4 327.3,315.0 332.2,326.0 337.1,301.0 342.0,287.0 346.9,286.6 351.7,274.4 356.6,329.0 361.5,361.0 366.4,354.4 371.3,349.0 376.2,354.4 381.1,382.0 386.0,313.0 390.9,265.4 395.8,273.0 400.7,289.4 405.6,267.0 410.5,278.6 415.4,289.0 420.3,299.4 425.1,289.4 430.0,325.0 434.9,333.4 439.8,316.6 444.7,320.0 449.6,336.0 454.5,366.0 459.4,388.0 464.3,301.0 469.2,264.6 474.1,285.0 479.0,317.4 483.9,307.0 488.8,280.0 493.6,293.0 498.5,336.0 503.4,341.4 508.3,338.0 513.2,341.0 518.1,348.0 523.0,321.4 527.9,339.0 532.8,378.0 537.7,415.0 542.6,429.0 547.5,411.0 552.4,422.0 557.3,420.0 562.1,388.0 567.0,359.0 571.9,399.0 576.8,374.4 581.7,397.0 586.6,395.0 591.5,390.4 596.4,408.0 601.3,414.4 606.2,409.0 611.1,382.0 616.0,360.0 620.9,320.0 625.8,307.4 630.6,319.4 635.5,275.4 640.4,309.0 645.3,343.0 650.2,355.0 655.1,347.5 660.0,322.0 664.9,312.0 669.8,305.0 674.7,274.0 679.6,285.0 684.5,266.6 689.4,281.0 694.3,270.0 699.2,277.0 704.0,316.6 708.9,311.0 713.8,376.0 718.7,401.6 723.6,362.0 728.5,291.0 733.4,267.0 738.3,317.0 743.2,357.6 748.1,357.0 753.0,315.0 757.9,290.0 762.8,297.0 767.7,311.0 772.5,344.0 777.4,347.5 782.3,306.0 787.2,325.0 792.1,292.0 797.0,290.6 801.9,296.0 806.8,267.0 811.7,304.0 816.6,332.0 821.5,344.0 826.4,309.0 831.3,296.0 836.2,339.0 841.0,382.4 845.9,351.0 850.8,272.0 855.7,280.6 860.6,266.6 865.5,279.4 870.4,273.4 875.3,262.0" fill="none" stroke="#3a6cf4" stroke-width="1.0" stroke-linejoin="round" stroke-linecap="round" />
<line x1="0" x2="900" y1="447.3" y2="447.3" stroke="#4f525c" stroke-width="1.2"/>
<path d="M260,59.3 L305.8,59.3 Q310.8,59.3 310.8,64.3 L310.8,82.5 Q310.8,87.5 305.8,87.5 L291.5,87.5 L307,133 L275.5,87.5 L260,87.5 Q255,87.5 255,82.5 L255,64.3 Q255,59.3 260,59.3 Z" fill="#5b8ff9" stroke="#4a7eea" stroke-width="0.8" stroke-linejoin="round"/>
<text x="264" y="76.4" font-size="10.8" textLength="38.2" lengthAdjust="spacingAndGlyphs" fill="#2f4466">EMA-50</text>
<path d="M333,169 L369,207.4 L397,207.4 Q402,207.4 402,212.4 L402,231 Q402,236 397,236 L365.3,236 Q360.3,236 360.3,231 L360.3,213 Z" fill="#f4687b" stroke="#8a93a0" stroke-width="0.8" stroke-linejoin="round"/>
<text x="368.2" y="225.3" font-size="10.8" textLength="25" lengthAdjust="spacingAndGlyphs" fill="#4a2530">EM-9</text>
<circle cx="889.5" cy="228.5" r="8.6" fill="#f3f0f8" stroke="#f23645" stroke-width="1.2"/>
<circle cx="874.5" cy="229" r="7.9" fill="#ffffff" stroke="#9c27b0" stroke-width="1.3"/>
<path d="M876.5,225 L872,230.5 L874.8,230.5 L873,234 L877.5,228.5 L874.8,228.5 Z" fill="#9c27b0"/>
<circle cx="884.5" cy="228.5" r="8.6" fill="#ffffff" stroke="#f23645" stroke-width="1.2"/>
<circle cx="884.5" cy="228.5" r="6.8" fill="#1f3f99"/>
<path d="M878.6,224.6 L883.6,224.6 L883.6,228 L878,228 Z" fill="#e8495a"/>
<path d="M879,224.8 L883.4,227.8" stroke="#fff" stroke-width="0.8"/>
<circle cx="882" cy="232" r="0.9" fill="#fff"/><circle cx="888" cy="226.5" r="0.6" fill="#fff"/><circle cx="888.3" cy="231.5" r="0.6" fill="#fff"/><circle cx="886.5" cy="229" r="0.5" fill="#fff"/>
<text x="-0.5" y="15.8" font-size="10.9" fill="#3a3d46" stroke="#3a3d46" stroke-width="0.2" textLength="11.00" lengthAdjust="spacingAndGlyphs">ed</text>
<text x="13" y="15.8" font-size="10.9" fill="#3a3d46" stroke="#3a3d46" stroke-width="0.2" textLength="10.00" lengthAdjust="spacingAndGlyphs">on</text>
<text x="27" y="15.8" font-size="10.9" fill="#3a3d46" stroke="#3a3d46" stroke-width="0.2" textLength="78.00" lengthAdjust="spacingAndGlyphs">TradingView.com,</text>
<text x="110" y="15.8" font-size="10.9" fill="#3a3d46" stroke="#3a3d46" stroke-width="0.2" textLength="15.00" lengthAdjust="spacingAndGlyphs">Jun</text>
<text x="128.7" y="15.8" font-size="10.9" fill="#3a3d46" stroke="#3a3d46" stroke-width="0.2" textLength="11.80" lengthAdjust="spacingAndGlyphs">09,</text>
<text x="144.5" y="15.8" font-size="10.9" fill="#3a3d46" stroke="#3a3d46" stroke-width="0.2" textLength="20.50" lengthAdjust="spacingAndGlyphs">2023</text>
<text x="170" y="15.8" font-size="10.9" fill="#3a3d46" stroke="#3a3d46" stroke-width="0.2" textLength="23.70" lengthAdjust="spacingAndGlyphs">08:44</text>
<text x="198.7" y="15.8" font-size="10.9" fill="#3a3d46" stroke="#3a3d46" stroke-width="0.2" textLength="27.30" lengthAdjust="spacingAndGlyphs">UTC+1</text>
<text x="-0.5" y="39.4" font-size="10.8" fill="#50535e" stroke="#50535e" stroke-width="0.2" textLength="3.00" lengthAdjust="spacingAndGlyphs">r</text>
<text x="5.5" y="39.4" font-size="10.8" fill="#50535e" stroke="#50535e" stroke-width="0.2" textLength="3.25" lengthAdjust="spacingAndGlyphs">/</text>
<text x="14.5" y="39.4" font-size="10.8" fill="#50535e" stroke="#50535e" stroke-width="0.2" textLength="41.00" lengthAdjust="spacingAndGlyphs">Japanese</text>
<text x="58.75" y="39.4" font-size="10.8" fill="#50535e" stroke="#50535e" stroke-width="0.2" textLength="20.75" lengthAdjust="spacingAndGlyphs">Yen,</text>
<text x="83" y="39.4" font-size="10.8" fill="#50535e" stroke="#50535e" stroke-width="0.2" textLength="13.25" lengthAdjust="spacingAndGlyphs">1D,</text>
<text x="100" y="39.4" font-size="10.8" fill="#50535e" stroke="#50535e" stroke-width="0.2" textLength="23.75" lengthAdjust="spacingAndGlyphs">FXCM</text>
<text x="130" y="39.4" font-size="10.8" fill="#50535e" stroke="#50535e" stroke-width="0.2" textLength="6.20" lengthAdjust="spacingAndGlyphs">O</text>
<text x="136.4" y="39.4" font-size="10.8" fill="#26a69a" stroke="#26a69a" stroke-width="0.2" textLength="29.40" lengthAdjust="spacingAndGlyphs">93.247</text>
<text x="173.2" y="39.4" font-size="10.8" fill="#50535e" stroke="#50535e" stroke-width="0.2" textLength="6.40" lengthAdjust="spacingAndGlyphs">H</text>
<text x="180" y="39.4" font-size="10.8" fill="#26a69a" stroke="#26a69a" stroke-width="0.2" textLength="28.80" lengthAdjust="spacingAndGlyphs">93.686</text>
<text x="215.7" y="39.4" font-size="10.8" fill="#50535e" stroke="#50535e" stroke-width="0.2" textLength="4.30" lengthAdjust="spacingAndGlyphs">L</text>
<text x="220.5" y="39.4" font-size="10.8" fill="#26a69a" stroke="#26a69a" stroke-width="0.2" textLength="30.25" lengthAdjust="spacingAndGlyphs">93.150</text>
<text x="257" y="39.4" font-size="10.8" fill="#50535e" stroke="#50535e" stroke-width="0.2" textLength="6.00" lengthAdjust="spacingAndGlyphs">C</text>
<text x="263.4" y="39.4" font-size="10.8" fill="#26a69a" stroke="#26a69a" stroke-width="0.2" textLength="29.60" lengthAdjust="spacingAndGlyphs">93.626</text>
<text x="299.5" y="39.4" font-size="10.8" fill="#26a69a" stroke="#26a69a" stroke-width="0.2" textLength="30.00" lengthAdjust="spacingAndGlyphs">+0.379</text>
<text x="333.75" y="39.4" font-size="10.8" fill="#26a69a" stroke="#26a69a" stroke-width="0.2" textLength="37.00" lengthAdjust="spacingAndGlyphs">(+0.41%)</text>
<text x="-0.3" y="67.7" font-size="10.8" fill="#50535e" stroke="#50535e" stroke-width="0.2" textLength="5.80" lengthAdjust="spacingAndGlyphs">0,</text>
<text x="12" y="67.7" font-size="10.8" fill="#50535e" stroke="#50535e" stroke-width="0.2" textLength="20.50" lengthAdjust="spacingAndGlyphs">EMA,</text>
<text x="38" y="67.7" font-size="10.8" fill="#50535e" stroke="#50535e" stroke-width="0.2" textLength="8.25" lengthAdjust="spacingAndGlyphs">1)</text>
<text x="602.5" y="52" font-size="11.5" fill="#2e3038" textLength="118" lengthAdjust="spacing">Upper Resistance Area</text>
<text x="-2" y="265.5" font-size="11.5" fill="#2e3038" textLength="82" lengthAdjust="spacing">er Support Area</text>
<text x="804" y="287" font-size="11.5" letter-spacing="0.05" fill="#2e3038">Overbought Region</text>
<text x="833" y="436" font-size="11.5" letter-spacing="0.05" fill="#2e3038">Oversold Region</text>
<text x="-0.5" y="462" font-size="9.8" text-anchor="middle" fill="#6a6d78">Oct</text>
<text x="102.2" y="462" font-size="9.8" text-anchor="middle" fill="#6a6d78">Nov</text>
<text x="209.6" y="462" font-size="9.8" text-anchor="middle" fill="#6a6d78">Dec</text>
<text x="317.4" y="462" font-size="9.8" text-anchor="middle" fill="#33363f">2023</text>
<text x="424.8" y="462" font-size="9.8" text-anchor="middle" fill="#6a6d78">Feb</text>
<text x="522.5" y="462" font-size="9.8" text-anchor="middle" fill="#6a6d78">Mar</text>
<text x="635.5" y="462" font-size="9.8" text-anchor="middle" fill="#6a6d78">Apr</text>
<text x="733.3" y="462" font-size="9.8" text-anchor="middle" fill="#6a6d78">May</text>
<text x="845.6" y="462" font-size="9.8" text-anchor="middle" fill="#6a6d78">Jun</text>
</svg></body></html>
